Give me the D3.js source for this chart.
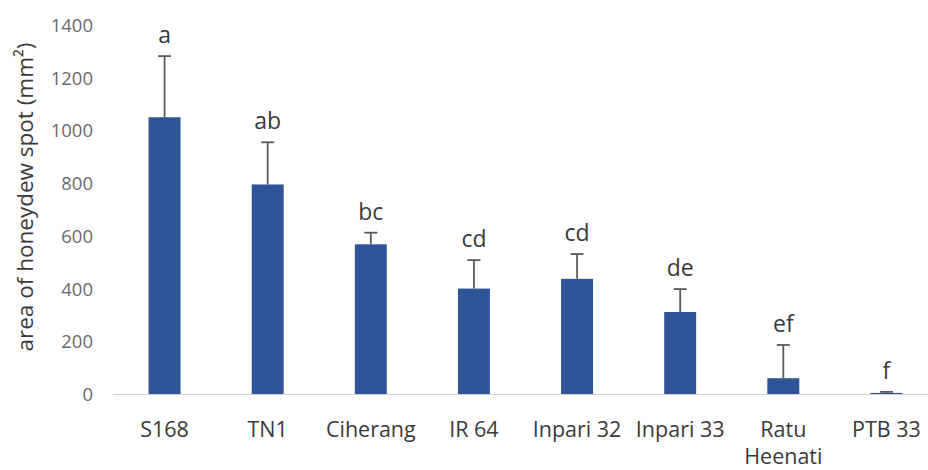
<!DOCTYPE html>
<html>
<head>
<meta charset="utf-8">
<script src="https://cdn.jsdelivr.net/npm/d3@7"></script>
<style>
  html, body { margin: 0; padding: 0; background: #fff; }
  svg { display: block; font-family: "Open Sans", "Noto Sans", sans-serif; }
</style>
</head>
<body>
<svg id="chart" width="928" height="470"></svg>
<script>
const categories = ["S168", "TN1", "Ciherang", "IR 64", "Inpari 32", "Inpari 33", "Ratu Heenati", "PTB 33"];
const values = [1050, 795, 568, 400, 437, 311, 60, 4];
const errors = [232, 160, 44, 108, 94, 87, 126, 4];
const letters = ["a", "ab", "bc", "cd", "cd", "de", "ef", "f"];
const yTicks = [0, 200, 400, 600, 800, 1000, 1200, 1400];

const svg = d3.select("#chart");
const x = d3.scaleBand().domain(categories).range([113, 938]).paddingInner(0.69).paddingOuter(0.345);
const y = d3.scaleLinear().domain([0, 1400]).range([394, 25]);

// y tick labels
const yAxis = d3.axisLeft(y).tickValues(yTicks).tickFormat(d3.format("d")).tickSize(0).tickPadding(0);
const gy = svg.append("g").attr("transform", "translate(93,0)").call(yAxis);
gy.select(".domain").remove();
gy.selectAll("text").attr("fill", "#6a6a6a").attr("dy", "0.35em")
  .style("font-size", "18.5px").style("font-family", "'Open Sans', sans-serif");

// x axis
const gx = svg.append("g").attr("transform", `translate(0,${y(0)})`)
  .call(d3.axisBottom(x).tickSize(0).tickPadding(0));
gx.select(".domain").attr("stroke", "#d0d0d0").attr("stroke-width", 1.2)
  .attr("d", `M113,0.5H928`);
gx.selectAll(".tick text").remove();
gx.selectAll(".tick").each(function(d) {
  const words = d === "Ratu Heenati" ? ["Ratu", "Heenati"] : [d];
  const t = d3.select(this).append("text")
    .attr("fill", "#3a3a3a").attr("text-anchor", "middle")
    .style("font-size", "21.5px").style("font-family", "'Open Sans', sans-serif");
  words.forEach((w, i) => t.append("tspan").attr("x", 0).attr("y", 43 + i * 27).text(w));
});

const data = categories.map((c, i) => ({ c, v: values[i], e: errors[i], l: letters[i] }));

// bars
svg.append("g").selectAll("rect").data(data).join("rect")
  .attr("x", d => x(d.c)).attr("width", x.bandwidth())
  .attr("y", d => y(d.v)).attr("height", d => y(0) - y(d.v))
  .attr("fill", "#2f5597");

// error bars
const eg = svg.append("g").attr("stroke", "#5a5a5a").attr("stroke-width", 1.8);
data.forEach(d => {
  const cx = x(d.c) + x.bandwidth() / 2;
  eg.append("line").attr("x1", cx).attr("x2", cx).attr("y1", y(d.v)).attr("y2", y(d.v + d.e));
  eg.append("line").attr("x1", cx - 6.5).attr("x2", cx + 6.5).attr("y1", y(d.v + d.e)).attr("y2", y(d.v + d.e));
});

// significance letters
svg.append("g").selectAll("text").data(data).join("text")
  .attr("x", d => x(d.c) + x.bandwidth() / 2)
  .attr("y", d => y(d.v + d.e) - 13)
  .attr("text-anchor", "middle").attr("fill", "#3a3a3a")
  .style("font-size", "23px").style("font-family", "'Open Sans', sans-serif")
  .text(d => d.l);

// y axis title
svg.append("text")
  .attr("transform", "translate(33,197) rotate(-90)")
  .attr("text-anchor", "middle").attr("fill", "#3a3a3a")
  .style("font-size", "22.5px").style("font-family", "'Open Sans', sans-serif")
  .text("area of honeydew spot (mm²)");
</script>
</body>
</html>
